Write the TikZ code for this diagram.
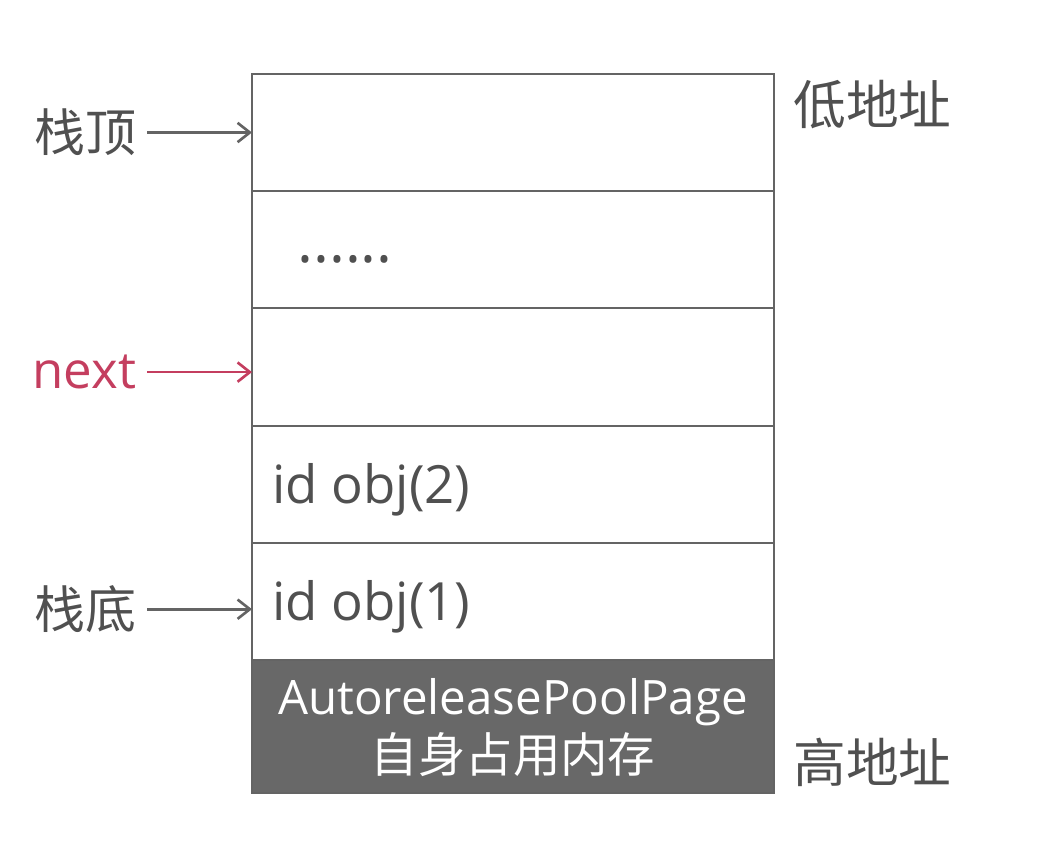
\documentclass[tikz,border=0pt]{standalone}
\usepackage{fontspec}
\setmainfont{Open Sans}
\newfontfamily\cjk{Noto Sans CJK SC}
\usetikzlibrary{arrows.meta,positioning}
\definecolor{linie}{RGB}{100,100,100}
\definecolor{schrift}{RGB}{80,80,80}
\definecolor{rot}{RGB}{196,62,95}
\definecolor{dunkel}{RGB}{104,104,104}
\newcommand{\gross}{\fontsize{29}{33}\selectfont}

\begin{document}
\begin{tikzpicture}[>={Straight Barb[length=7pt,width=11pt]},
  zelle/.style={draw=linie,line width=1.1pt,minimum width=10.44cm,minimum height=2.346cm,inner sep=0pt,outer sep=0pt},
  zeiger/.style={->,line width=1.5pt,color=linie},
  schild/.style={font=\gross\cjk,text=schrift,inner sep=6pt},
  inhalt/.style={font=\fontsize{30}{34}\selectfont,text=schrift,inner sep=0pt}]
\useasboundingbox (0,0) rectangle (21.16,-16.88);

% Stapel
\node[zelle] (z1) at (10.26,-2.65) {};
\node[zelle,below=0pt of z1] (z2) {};
\node[zelle,below=0pt of z2] (z3) {};
\node[zelle,below=0pt of z3] (z4) {};
\node[zelle,below=0pt of z4] (z5) {};
\node[zelle,below=0pt of z5,fill=dunkel,minimum height=2.66cm,align=center,
  text=white,font=\fontsize{27}{33}\selectfont,text depth=0.05cm] (z6)
  {AutoreleasePoolPage\\{\cjk 自身占用内存}};

\node[inhalt,font=\fontsize{34}{34}\selectfont,right=0.9cm of z2.west,yshift=-0.2cm] (dots) {......};
\node[inhalt,right=0.4cm of z4.west,yshift=-0.1cm] (obj2) {id obj(2)};
\node[inhalt,right=0.4cm of z5.west,yshift=-0.1cm] (obj1) {id obj(1)};

% Zeiger
\node[schild,left=2.1cm of z1] (oben) {栈顶};
\node[schild,left=2.1cm of z3,font=\gross,text=rot,yshift=-0.1cm] (next) {next};
\node[schild,left=2.1cm of z5,yshift=-0.15cm] (unten) {栈底};
\draw[zeiger] (oben) -- (oben -| z1.west);
\draw[zeiger,color=rot] (next) -- (next -| z3.west);
\draw[zeiger] (unten) -- (unten -| z5.west);

% Adressen
\node[schild,inner sep=0pt,font=\fontsize{30}{34}\selectfont\cjk,below right=0.12cm and 0.38cm of z1.north east] (niedrig) {低地址};
\node[schild,inner sep=0pt,font=\fontsize{30}{34}\selectfont\cjk,above right=0.12cm and 0.38cm of z6.south east] (hoch) {高地址};

\end{tikzpicture}
\end{document}
